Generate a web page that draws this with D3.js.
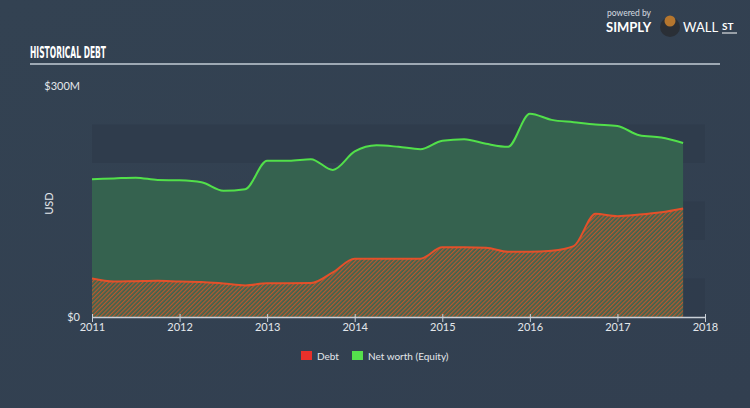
<!DOCTYPE html>
<html><head><meta charset="utf-8">
<script src="https://cdn.jsdelivr.net/npm/d3@7"></script>
<style>
html,body{margin:0;padding:0;background:#334152;}
svg{display:block;}
</style></head>
<body>
<script>
// ---- data ----
const dates = [2011.00,2011.25,2011.50,2011.75,2012.00,2012.25,2012.50,2012.75,
               2013.00,2013.25,2013.50,2013.75,2014.00,2014.25,2014.50,2014.75,
               2015.00,2015.25,2015.50,2015.75,2016.00,2016.25,2016.50,2016.75,
               2017.00,2017.25,2017.50,2017.75];
const debt = [50,46,46.5,47,46,45.5,43.5,41,
              43.8,43.8,44,58,75.7,75.7,75.7,75.7,
              90.5,90.5,90,84.8,84.8,86,92,134,
              131,133,136,141];
const equity = [179,180,181,178,177.5,175,164,166,
                203,203,205,191,215,223,221,218,
                229,231,225,221,264,256,253,250,
                248,236,233,226];
const yearTicks = [2011,2012,2013,2014,2015,2016,2017,2018];
const bandTicks = [0,50,100,150,200,250];
const seriesNames = ["Debt","Net worth (Equity)"];
const seriesColors = ["#e8302a","#55e04c"];

// ---- chart ----
const W=750,H=408;
const svg=d3.select("body").append("svg").attr("width",W).attr("height",H);
const defs=svg.append("defs");
const grad=defs.append("linearGradient").attr("id","bg").attr("x1",0).attr("y1",0).attr("x2",1).attr("y2",1);
grad.append("stop").attr("offset","0%").attr("stop-color","#334252");
grad.append("stop").attr("offset","100%").attr("stop-color","#323f50");
svg.append("rect").attr("width",W).attr("height",H).attr("fill","url(#bg)");

const pat=defs.append("pattern").attr("id","hatch").attr("patternUnits","userSpaceOnUse")
  .attr("width",3).attr("height",3).attr("patternTransform","rotate(45)");
pat.append("rect").attr("width",3).attr("height",3).attr("fill","#3a6550");
pat.append("rect").attr("width",1.3).attr("height",3).attr("fill","#b8582f");

const x=d3.scaleLinear().domain([2011,2018]).range([92,705]);
const y=d3.scaleLinear().domain([0,300]).range([317,86]);

// bands
for(let i=0;i<bandTicks.length-1;i+=2){
  svg.append("rect").attr("x",x(2011)).attr("width",x(2018)-x(2011))
    .attr("y",y(bandTicks[i+1])).attr("height",y(bandTicks[i])-y(bandTicks[i+1]))
    .attr("fill","#2e3b4b").attr("opacity",0.8);
}

const pts=dates.map((d,i)=>({d,debt:debt[i],eq:equity[i]}));
const curve=d3.curveMonotoneX;
svg.append("path").datum(pts).attr("fill","#366350").attr("opacity",0.97)
  .attr("d",d3.area().curve(curve).x(p=>x(p.d)).y0(y(0)).y1(p=>y(p.eq)));
svg.append("path").datum(pts).attr("fill","url(#hatch)")
  .attr("d",d3.area().curve(curve).x(p=>x(p.d)).y0(y(0)).y1(p=>y(p.debt)));
svg.append("path").datum(pts).attr("fill","none").attr("stroke","#52e04a").attr("stroke-width",2)
  .attr("d",d3.line().curve(curve).x(p=>x(p.d)).y(p=>y(p.eq)));
svg.append("path").datum(pts).attr("fill","none").attr("stroke","#e4502a").attr("stroke-width",2)
  .attr("d",d3.line().curve(curve).x(p=>x(p.d)).y(p=>y(p.debt)));

// x axis
const xa=svg.append("g").attr("transform",`translate(0,${y(0)})`)
  .call(d3.axisBottom(x).tickValues(yearTicks).tickFormat(d3.format("d")).tickSize(5).tickSizeOuter(0));
xa.select(".domain").attr("stroke","#c9d0d8").attr("stroke-width",1.5);
xa.selectAll(".tick line").attr("stroke","#c9d0d8").attr("y1",-3);
xa.selectAll(".tick text").attr("fill","#e3e7eb").attr("font-family","Lato, 'Open Sans', sans-serif")
  .attr("font-size",11).attr("dy","0.5em");

// y labels
const yl=svg.append("g").attr("font-family","Lato, 'Open Sans', sans-serif").attr("fill","#e3e7eb").attr("font-size",11);
yl.append("text").attr("x",80).attr("y",y(0)).attr("dy","0.35em").attr("text-anchor","end").text("$0");
yl.append("text").attr("x",80).attr("y",y(300)).attr("dy","0.35em").attr("text-anchor","end").text("$300M");
yl.append("text").attr("transform",`translate(53,${y(150)+2}) rotate(-90)`).attr("text-anchor","middle").text("USD");

// title
svg.append("text").attr("x",30).attr("y",58).attr("fill","#ffffff")
  .attr("font-family","'Liberation Sans Narrow', 'DejaVu Sans Condensed', sans-serif").attr("font-weight","bold")
  .attr("font-size",15).attr("textLength",76).attr("lengthAdjust","spacingAndGlyphs").text("HISTORICAL DEBT");
svg.append("line").attr("x1",30).attr("x2",720).attr("y1",64).attr("y2",64).attr("stroke","#c3ccd6").attr("stroke-width",1.5);

// logo
const lg=svg.append("g").attr("font-family","Lato, 'Open Sans', sans-serif").attr("fill","#ffffff");
lg.append("text").attr("x",607).attr("y",16).attr("font-size",8.5).attr("fill","#d6dbe0").text("powered by");
lg.append("text").attr("x",606).attr("y",32).attr("font-size",13).attr("font-weight","bold").text("SIMPLY");
lg.append("circle").attr("cx",670).attr("cy",27).attr("r",10).attr("fill","#2a2f36");
lg.append("circle").attr("cx",670).attr("cy",21).attr("r",5.5).attr("fill","#b5762e");
lg.append("text").attr("x",683).attr("y",32).attr("font-size",13).text("WALL");
lg.append("text").attr("x",722).attr("y",30).attr("font-size",10).attr("font-weight","bold").text("ST");
lg.append("line").attr("x1",722).attr("x2",737).attr("y1",33).attr("y2",33).attr("stroke","#fff").attr("stroke-width",1);

// legend
const leg=svg.append("g").attr("font-family","Lato, 'Open Sans', sans-serif").attr("font-size",10).attr("fill","#e3e7eb");
const legX=[301,352];
seriesNames.forEach((n,i)=>{
  leg.append("rect").attr("x",legX[i]).attr("y",351).attr("width",11).attr("height",9).attr("fill",seriesColors[i]);
  leg.append("text").attr("x",legX[i]+16).attr("y",356).attr("dy","0.35em").text(n);
});
</script>
</body></html>
